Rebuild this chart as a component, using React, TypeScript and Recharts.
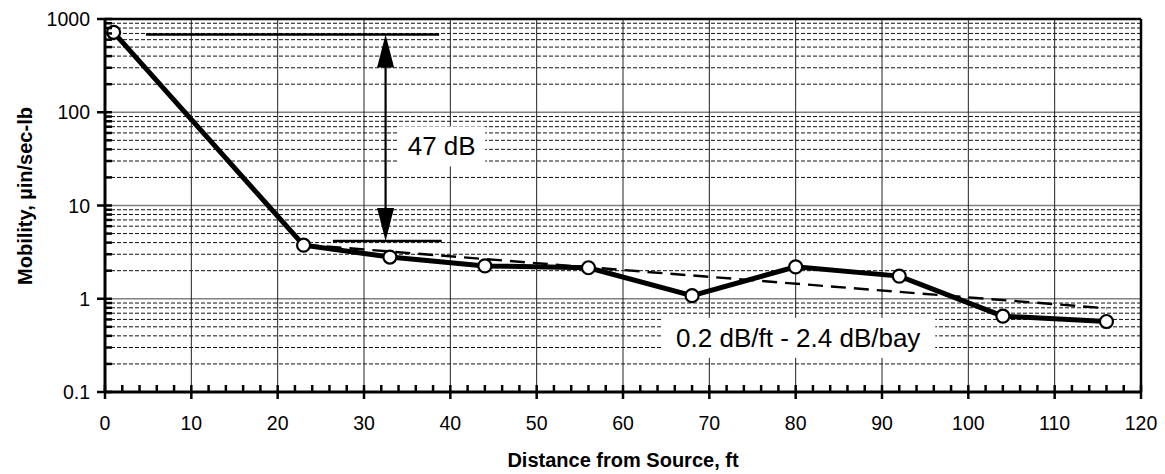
import * as React from "react";
import { LineChart, Line, XAxis, YAxis, ReferenceLine, ReferenceDot } from "recharts";

// measured points, ft vs µin/sec-lb
const distance = [1, 23, 33, 44, 56, 68, 80, 92, 104, 116];
const mobility = [720, 3.75, 2.8, 2.25, 2.15, 1.08, 2.2, 1.75, 0.65, 0.57];

// dashed decay trend
const trendDistance = [23, 116];
const trendMobility = [3.8, 0.79];

// 47 dB annotation
const levelTop = 680;
const levelBottom = 4.15;
const topLineX = [4.75, 38.7];
const bottomLineX = [26.4, 39];
const arrowX = 32.5;
const dropLabel = { x: 39, y: 43, text: "47 dB" };
const rateLabel = { x: 80.3, y: 0.381, text: "0.2 dB/ft - 2.4 dB/bay" };

const xMajor = [0, 10, 20, 30, 40, 50, 60, 70, 80, 90, 100, 110, 120];
const xTicks = Array.from({ length: 61 }, (_, i) => i * 2);
const decades = [0.1, 1, 10, 100, 1000];
const minorSteps = [2, 3, 4, 5, 6, 7, 8, 9];
const yMinor = decades.slice(0, -1).flatMap((d) => minorSteps.map((m) => +(d * m).toPrecision(2)));
const yTicks = [...decades, ...yMinor].sort((a, b) => a - b);

const rows = distance.map((d, i) => ({ d, mob: mobility[i] }));
const trend = trendDistance.map((d, i) => ({ d, trend: trendMobility[i] }));

const FONT = "'Liberation Sans', Arial, sans-serif";

const isDecade = (v: number) => Math.abs(Math.log10(v) - Math.round(Math.log10(v))) < 1e-6;

const XTick = (props: any) => {
  const { x, y, payload } = props;
  const major = payload.value % 10 === 0;
  return (
    <g>
      <line x1={x} x2={x} y1={y - 7} y2={major ? y + 7 : y} stroke="#000" strokeWidth={2.5} />
      {major && (
        <text x={x} y={y + 38} textAnchor="middle" fontSize={19.5} fontFamily={FONT} fill="#000">
          {payload.value}
        </text>
      )}
    </g>
  );
};

const YTick = (props: any) => {
  const { x, y, payload } = props;
  const major = isDecade(payload.value);
  return (
    <g>
      <line x1={major ? x - 8 : x} x2={x + 7} y1={y} y2={y} stroke="#000" strokeWidth={2.5} />
      {major && (
        <text x={x - 15} y={y + 7} textAnchor="end" fontSize={19.5} fontFamily={FONT} fill="#000">
          {String(payload.value)}
        </text>
      )}
    </g>
  );
};

const Arrow = (props: any) => {
  const { x1, y1, x2, y2 } = props;
  const head = 33;
  const half = 8.5;
  return (
    <g>
      <line x1={x1} y1={y1 + 10} x2={x2} y2={y2 - 10} stroke="#000" strokeWidth={2.2} />
      <polygon points={`${x1},${y1} ${x1 - half},${y1 + head} ${x1 + half},${y1 + head}`} fill="#000" />
      <polygon points={`${x2},${y2} ${x2 - half},${y2 - head} ${x2 + half},${y2 - head}`} fill="#000" />
    </g>
  );
};

const boxLabel = (text: string, w: number) => (props: any) => {
  const { cx, cy } = props;
  return (
    <g>
      <rect x={cx - w / 2} y={cy - 20} width={w} height={40} fill="#fff" />
      <text x={cx} y={cy + 9} textAnchor="middle" fontSize={26} fontFamily={FONT} fill="#000">
        {text}
      </text>
    </g>
  );
};

export default function App() {
  return (
    <div style={{ position: "absolute", left: 0, top: 0, background: "#fff" }}>
      <LineChart width={1165} height={474} margin={{ top: 19, right: 24, left: 0, bottom: 0 }}>
        <XAxis
          dataKey="d"
          type="number"
          domain={[0, 120]}
          ticks={xTicks}
          interval={0}
          allowDataOverflow
          height={82}
          tickSize={0}
          tickMargin={0}
          tickLine={false}
          tick={<XTick />}
          axisLine={{ stroke: "#000", strokeWidth: 3 }}
          label={{
            content: () => (
              <text x={623} y={467} textAnchor="middle" fontSize={20} fontWeight="bold" fontFamily={FONT} fill="#000">
                Distance from Source, ft
              </text>
            ),
          }}
        />
        <YAxis
          type="number"
          scale="log"
          domain={[0.1, 1000]}
          ticks={yTicks}
          interval={0}
          allowDataOverflow
          width={105}
          tickSize={0}
          tickMargin={0}
          tickLine={false}
          tick={<YTick />}
          axisLine={{ stroke: "#000", strokeWidth: 3 }}
          label={{
            content: () => (
              <text
                x={32}
                y={196}
                transform="rotate(-90, 32, 196)"
                textAnchor="middle"
                fontSize={20}
                fontWeight="bold"
                fontFamily={FONT}
                fill="#000"
              >
                Mobility, µin/sec-lb
              </text>
            ),
          }}
        />

        {yMinor.map((v) => (
          <ReferenceLine key={"ym" + v} y={v} stroke="#111" strokeWidth={1} strokeDasharray="4 2" />
        ))}
        {decades.slice(1, -1).map((v) => (
          <ReferenceLine key={"yd" + v} y={v} stroke="#808080" strokeWidth={1.5} />
        ))}
        {xMajor.slice(1, -1).map((v) => (
          <ReferenceLine key={"xg" + v} x={v} stroke="#222" strokeWidth={1} />
        ))}
        <ReferenceLine y={1000} stroke="#000" strokeWidth={2.5} />
        <ReferenceLine x={120} stroke="#000" strokeWidth={2.5} />

        <ReferenceDot x={dropLabel.x} y={dropLabel.y} r={0} shape={boxLabel(dropLabel.text, 87)} />
        <ReferenceDot x={rateLabel.x} y={rateLabel.y} r={0} shape={boxLabel(rateLabel.text, 274)} />

        <ReferenceLine
          segment={[{ x: topLineX[0], y: levelTop }, { x: topLineX[1], y: levelTop }]}
          stroke="#000"
          strokeWidth={2.5}
        />
        <ReferenceLine
          segment={[{ x: bottomLineX[0], y: levelBottom }, { x: bottomLineX[1], y: levelBottom }]}
          stroke="#000"
          strokeWidth={2.5}
        />
        <ReferenceLine
          segment={[{ x: arrowX, y: levelTop }, { x: arrowX, y: levelBottom }]}
          shape={<Arrow />}
        />

        <Line
          data={trend}
          dataKey="trend"
          stroke="#000"
          strokeWidth={2.4}
          strokeDasharray="15 8"
          dot={false}
          isAnimationActive={false}
        />
        <Line
          data={rows}
          dataKey="mob"
          stroke="#000"
          strokeWidth={5}
          dot={{ r: 6.5, fill: "#fff", stroke: "#000", strokeWidth: 2.2 }}
          isAnimationActive={false}
        />
      </LineChart>
    </div>
  );
}
